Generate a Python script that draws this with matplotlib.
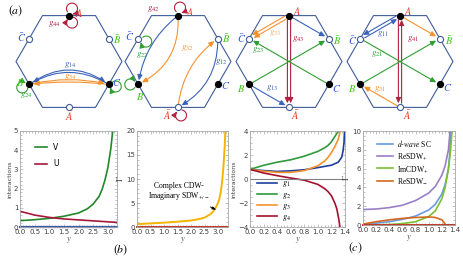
import numpy as np
import matplotlib
matplotlib.use('Agg')
from matplotlib import pyplot as plt
from matplotlib.patches import FancyArrowPatch, Polygon
from matplotlib.path import Path
from matplotlib.ticker import AutoMinorLocator, FormatStrFormatter, MultipleLocator

plt.rcParams['mathtext.fontset'] = 'stix'
plt.rcParams['font.family'] = ['DejaVu Sans']

W, H = 463, 257

# ---- data: flow curves ----
y1 = [0.0, 0.5, 1.0, 1.5, 2.0, 2.3, 2.5, 2.7, 2.8, 2.9, 3.0, 3.05, 3.1, 3.15, 3.18]
V = [0.33, 0.38, 0.45, 0.56, 0.73, 0.95, 1.2, 1.6, 1.95, 2.45, 3.1, 3.6, 4.1, 4.8, 5.3]
yU = [0.0, 0.5, 1.0, 1.5, 2.0, 2.5, 3.0, 3.3]
U = [0.82, 0.62, 0.5, 0.42, 0.37, 0.32, 0.27, 0.24]

y2 = [0.0, 0.5, 1.0, 1.5, 2.0, 2.3, 2.5, 2.7, 2.8, 2.9, 3.0, 3.05, 3.1, 3.15, 3.2, 3.25, 3.28]
gamma_cdw = [0.6, 0.75, 0.9, 1.1, 1.35, 1.65, 1.95, 2.6, 3.1, 3.9, 5.0, 5.9, 7.2, 9.3, 12.5, 17.0, 21.0]

y3 = [0.0, 0.2, 0.4, 0.6, 0.8, 1.0, 1.1, 1.2, 1.3, 1.35, 1.37, 1.385, 1.395]
g1 = [0.8, 0.7, 0.63, 0.68, 0.77, 0.95, 1.05, 1.15, 1.4, 1.8, 2.3, 3.0, 4.2]
y3b = [0.0, 0.2, 0.4, 0.6, 0.8, 1.0, 1.1, 1.15, 1.2, 1.28, 1.32]
g2 = [0.8, 1.14, 1.4, 1.6, 1.9, 2.3, 2.6, 2.8, 3.1, 3.8, 4.2]
y3c = [0.0, 0.2, 0.4, 0.6, 0.8, 1.0, 1.1, 1.15, 1.2, 1.25, 1.3, 1.34]
g3 = [0.8, 0.65, 0.55, 0.55, 0.7, 1.1, 1.5, 1.8, 2.2, 2.7, 3.3, 4.2]
y3d = [0.0, 0.2, 0.4, 0.6, 0.8, 1.0, 1.1, 1.15, 1.2, 1.25, 1.28, 1.31, 1.33]
g4 = [0.8, 0.5, 0.28, 0.08, -0.1, -0.45, -0.8, -1.05, -1.4, -2.0, -2.5, -3.4, -4.2]

y4 = [0.0, 0.2, 0.4, 0.6, 0.8, 1.0, 1.1, 1.2, 1.25, 1.3, 1.32, 1.34]
dwave = [0.1, 0.2, 0.35, 0.6, 0.95, 1.6, 2.2, 3.3, 4.3, 6.0, 7.5, 10.5]
y4b = [0.0, 0.2, 0.4, 0.6, 0.8, 1.0, 1.1, 1.2, 1.25, 1.3, 1.31, 1.33]
resdw_p = [1.65, 1.7, 1.85, 2.1, 2.6, 3.4, 4.1, 5.3, 6.3, 8.0, 8.8, 10.5]
y4c = [0.0, 0.2, 0.4, 0.6, 0.8, 1.0, 1.1, 1.2, 1.25, 1.3, 1.33, 1.36]
imcdw_p = [0.0, 0.02, 0.05, 0.15, 0.35, 0.9, 1.5, 2.8, 4.0, 6.0, 7.8, 10.5]
y4d = [0.0, 0.2, 0.4, 0.6, 0.8, 1.0, 1.1, 1.2, 1.23, 1.25, 1.26]
resdw_m = [0.1, 0.35, 0.55, 0.7, 0.8, 0.85, 0.8, 0.55, 0.3, 0.08, 0.0]

# ---- diagram colours ----
C_EDGE = '#3e5b99'
C_RED = '#e3402d'
C_GRN = '#3ec81c'
C_BLU = '#3256e0'
K44 = '#b3203f'
K1 = '#3b63b8'
K2 = '#2f9e33'
K3 = '#f5922e'

fig = plt.figure(figsize=(W / 100, H / 100), dpi=100)
ax = fig.add_axes([0, 0, 1, 1])
ax.set_xlim(0, W)
ax.set_ylim(H, 0)
ax.axis('off')

CX = [69, 178, 289, 400]
CY = 61.5
R = 53.0


def hex_points(cx):
    a = R * np.sqrt(3) / 2
    dx, dy = a * np.cos(np.pi / 6), a * np.sin(np.pi / 6)
    return {
        'A': (cx, CY - a), 'Ab': (cx, CY + a),
        'Cb': (cx - dx, CY - dy), 'Bb': (cx + dx, CY - dy),
        'B': (cx - dx, CY + dy), 'C': (cx + dx, CY + dy),
    }


def arrow(p, q, color, rad=0.0, sa=2.5, sb=3.0, lw=0.8, style='-|>'):
    ax.add_patch(FancyArrowPatch(p, q, connectionstyle=f'arc3,rad={rad}',
                                 arrowstyle=f'{style},head_length=3.2,head_width=1.5',
                                 mutation_scale=1, color=color, lw=lw,
                                 shrinkA=sa, shrinkB=sb, zorder=3))


def pair(p, q, color, off=1.6, heads=('q', 'p')):
    p, q = np.array(p), np.array(q)
    d = q - p
    n = np.array([-d[1], d[0]]) / np.hypot(*d) * off
    for sgn, h in zip((1, -1), heads):
        a, b = p + sgn * n, q + sgn * n
        if h == 'q':
            arrow(a, b, color, sa=3, sb=3)
        else:
            arrow(b, a, color, sa=3, sb=3)


def loop(p, c, r, color):
    p, c = np.array(p), np.array(c)
    t0 = np.arctan2(p[1] - c[1], p[0] - c[0]) + np.radians(30)
    t = np.linspace(t0, t0 + np.radians(300), 40)
    verts = np.column_stack([c[0] + r * np.cos(t), c[1] + r * np.sin(t)])
    ax.add_patch(FancyArrowPatch(path=Path(verts), arrowstyle='-|>,head_length=3,head_width=1.5',
                                 mutation_scale=1, color=color, lw=0.8, zorder=3))


label_off = [
    {'A': (10, -3), 'Ab': (0, 9), 'Cb': (-8, -1), 'Bb': (8, 1), 'B': (-9, -2), 'C': (8, -2)},
    {'A': (12, -4), 'Ab': (-11, 8), 'Cb': (-9, -2), 'Bb': (8, 0), 'B': (2, 12), 'C': (8, 1)},
    {'A': (8, -5), 'Ab': (6, 8), 'Cb': (-8, 0), 'Bb': (8, 2), 'B': (-8, 4), 'C': (8, 4)},
    {'A': (8, -5), 'Ab': (7, 8), 'Cb': (-8, 2), 'Bb': (9, 2), 'B': (-8, 4), 'C': (8, 3)},
]
label_txt = {'A': (r'$A$', C_RED), 'Ab': (r'$\bar{A}$', C_RED), 'B': (r'$B$', C_GRN),
             'Bb': (r'$\bar{B}$', C_GRN), 'C': (r'$C$', C_BLU), 'Cb': (r'$\bar{C}$', C_BLU)}

P = [hex_points(cx) for cx in CX]

for i, cx in enumerate(CX):
    t = np.arange(6) * np.pi / 3
    ax.add_patch(Polygon(np.column_stack([cx + R * np.cos(t), CY + R * np.sin(t)]),
                         closed=True, fill=False, ec=C_EDGE, lw=0.8, zorder=2))

# hex 1
p = P[0]
loop(p['A'], (p['A'][0] + 3, p['A'][1] - 7), 5.5, K44)
loop(p['A'], (p['A'][0] + 3, p['A'][1] + 7), 5.5, K44)
arrow(p['B'], p['C'], K1, rad=-0.36)
arrow(p['C'], p['B'], K1, rad=0.3)
arrow(p['B'], p['C'], K3, rad=-0.12)
arrow(p['C'], p['B'], K3, rad=0.06)
loop(p['B'], (p['B'][0] - 7, p['B'][1] + 3), 5.5, K2)
loop(p['C'], (p['C'][0] + 7, p['C'][1] + 2), 5.5, K2)
ax.text(54, 24, r'$g_{44}$', color=K44, fontsize=6.5, ha='center', va='center')
ax.text(70, 65, r'$g_{14}$', color=K1, fontsize=6.5, ha='center', va='center')
ax.text(70, 77, r'$g_{34}$', color=K3, fontsize=6.5, ha='center', va='center')
ax.text(26, 95, r'$g_{24}$', color=K2, fontsize=6.5, ha='center', va='center')

# hex 2
p = P[1]
loop(p['A'], (p['A'][0] + 2, p['A'][1] - 8), 5.5, K44)
loop(p['Ab'], (p['Ab'][0] + 3, p['Ab'][1] + 8), 5.5, K44)
loop(p['Cb'], (p['Cb'][0] + 8, p['Cb'][1] + 3), 5.5, K2)
loop(p['B'], (p['B'][0] - 8, p['B'][1]), 5.5, K2)
arrow(p['A'], p['B'], K1, rad=0.2)
arrow(p['A'], p['B'], K3, rad=-0.33)
arrow(p['Ab'], p['Bb'], K3, rad=-0.22)
arrow(p['Bb'], p['Ab'], K1, rad=-0.3)
ax.text(153, 9, r'$g_{42}$', color=K44, fontsize=6.5, ha='center', va='center')
ax.text(142, 55, r'$g_{22}$', color=K2, fontsize=6.5, ha='center', va='center')
ax.text(187, 48, r'$g_{32}$', color=K3, fontsize=6.5, ha='center', va='center')
ax.text(221, 62, r'$g_{12}$', color=K1, fontsize=6.5, ha='center', va='center')

# hex 3
p = P[2]
pair(p['A'], p['Ab'], K44, heads=('q', 'q'))
pair(p['A'], p['Cb'], K3, heads=('q', 'q'))
arrow(p['A'], p['Bb'], K1)
arrow(p['B'], p['Ab'], K1)
arrow(p['C'], p['Cb'], K2)
arrow(p['B'], p['Bb'], K2)
ax.text(298, 39, r'$g_{43}$', color=K44, fontsize=6.5, ha='center', va='center')
ax.text(275, 33, r'$g_{33}$', color='#f6b070', fontsize=6.5, ha='center', va='center')
ax.text(258, 50, r'$g_{23}$', color=K2, fontsize=6.5, ha='center', va='center')
ax.text(272, 88, r'$g_{13}$', color=K1, fontsize=6.5, ha='center', va='center')

# hex 4
p = P[3]
pair(p['A'], p['Ab'], K44, heads=('q', 'p'))
pair(p['A'], p['Cb'], K1, heads=('q', 'p'))
arrow(p['A'], p['Bb'], K3)
arrow(p['Ab'], p['B'], K3)
arrow(p['Cb'], p['C'], K2)
arrow(p['B'], p['Bb'], K2)
ax.text(413, 39, r'$g_{41}$', color=K44, fontsize=6.5, ha='center', va='center')
ax.text(383, 34, r'$g_{11}$', color=K1, fontsize=6.5, ha='center', va='center')
ax.text(377, 54, r'$g_{21}$', color=K2, fontsize=6.5, ha='center', va='center')
ax.text(380, 89, r'$g_{31}$', color=K3, fontsize=6.5, ha='center', va='center')

for i, p in enumerate(P):
    for k, (x, y) in p.items():
        filled = k in ('A', 'B', 'C')
        ax.plot(x, y, 'o', ms=4.4, mfc='black' if filled else 'white',
                mec='black' if filled else C_EDGE, mew=0.8, zorder=5)
        txt, col = label_txt[k]
        dx, dy = label_off[i][k]
        ax.text(x + dx, y + dy, txt, color=col, fontsize=7.5, ha='center', va='center', zorder=6)

ax.text(16, 11, r'$(a)$', fontsize=8.5, ha='center', va='center')
ax.text(121, 250, r'$(b)$', fontsize=8.5, ha='center', va='center')
ax.text(355, 248, r'$(c)$', fontsize=8.5, ha='center', va='center')


# ---- bottom panels ----
def px_rect(l, t, r, b):
    return [l / W, 1 - b / H, (r - l) / W, (b - t) / H]


def style(a, xmax, ylim, ystep, ylabel):
    a.set_xlim(0, xmax)
    a.set_ylim(*ylim)
    for s in a.spines.values():
        s.set_color('#a8a8a8')
        s.set_linewidth(0.6)
    a.tick_params(which='both', direction='in', top=True, right=True, colors='#a8a8a8',
                  labelcolor='#404040', labelsize=5, width=0.5, pad=1.2)
    a.tick_params(which='major', length=2.5)
    a.tick_params(which='minor', length=1.2)
    a.xaxis.set_minor_locator(AutoMinorLocator(5 if xmax > 2 else 4))
    a.yaxis.set_major_locator(MultipleLocator(ystep))
    a.yaxis.set_minor_locator(AutoMinorLocator(5 if ystep == 5 or ystep == 1 else 4))
    a.xaxis.set_major_formatter(FormatStrFormatter('%.1f'))
    a.set_xlabel(r'$y$', fontsize=6, labelpad=0.5, color='#404040')
    if ylabel == 'interactions':
        a.set_ylabel('interactions', fontsize=4.5, labelpad=1, color='#404040')
    else:
        a.set_ylabel(ylabel, fontsize=6, labelpad=1, color='#404040')


ax1 = fig.add_axes(px_rect(20, 131, 117, 227))
ax1.plot(y1, V, color='#22882a', lw=1.2, label='V')
ax1.plot(yU, U, color='#a5183a', lw=1.2, label='U')
ax1.axhline(0, color='#3b5ba5', lw=1.6, clip_on=False)
ax1.xaxis.set_major_locator(MultipleLocator(0.5))
style(ax1, 3.31, (0, 5), 1, 'interactions')
ax1.legend(loc='upper left', bbox_to_anchor=(0.08, 0.95), frameon=False, fontsize=5.5,
           handlelength=1.6, labelspacing=1.0, handletextpad=0.8)

ax2 = fig.add_axes(px_rect(137, 131, 228, 227))
ax2.plot(y2, gamma_cdw, color='#f4b400', lw=1.4)
ax2.axhline(0, color='#c0392b', lw=1.4, clip_on=False)
ax2.xaxis.set_major_locator(MultipleLocator(0.5))
style(ax2, 3.37, (0, 20), 5, r'$\Gamma$')
ax2.annotate('Complex CDW-\nImaginary SDW$_{+/-}$', xy=(2.93, 3.6), xytext=(1.55, 7.3),
             fontsize=5.5, family='Liberation Serif', ha='center', va='center', linespacing=1.1,
             arrowprops=dict(arrowstyle='-|>,head_length=0.4,head_width=0.15', color='black', lw=0.6,
                             shrinkA=3, shrinkB=0))

ax3 = fig.add_axes(px_rect(250, 131, 345, 227))
ax3.plot(y3, g1, color='#1c3f9e', lw=1.2, label=r'$g_1$')
ax3.plot(y3b, g2, color='#2f9a3c', lw=1.2, label=r'$g_2$')
ax3.plot(y3c, g3, color='#f5922e', lw=1.2, label=r'$g_3$')
ax3.plot(y3d, g4, color='#a5102e', lw=1.2, label=r'$g_4$')
ax3.axhline(0, color='#808080', lw=0.8)
ax3.xaxis.set_major_locator(MultipleLocator(0.2))
style(ax3, 1.4, (-4, 4), 2, 'interactions')
ax3.legend(loc='lower left', bbox_to_anchor=(0.02, -0.01), frameon=False, fontsize=6,
           handlelength=2.4, labelspacing=0.02, handletextpad=0.6, borderaxespad=0.2)

ax4 = fig.add_axes(px_rect(363, 131, 455, 225))
ax4.plot(y4, dwave, color='#6a9ae2', lw=1.2, label=r'$d$-$wave$ SC')
ax4.plot(y4b, resdw_p, color='#9a7ec8', lw=1.2, label=r'ReSDW$_{+}$')
ax4.plot(y4c, imcdw_p, color='#7cc030', lw=1.2, label=r'ImCDW$_{+}$')
ax4.plot(y4d, resdw_m, color='#d2691e', lw=1.2, label=r'ReSDW$_{-}$')
ax4.axhline(0, color='#c0392b', lw=1.4, clip_on=False)
ax4.xaxis.set_major_locator(MultipleLocator(0.2))
style(ax4, 1.4, (0, 10), 2, r'$\Gamma$')
ax4.legend(loc='upper left', bbox_to_anchor=(0.08, 1.0), frameon=False,
           handlelength=2.0, labelspacing=0.35, handletextpad=0.6,
           prop={'family': 'Liberation Serif', 'size': 5.5})

fig.savefig('out.png', dpi=100)
